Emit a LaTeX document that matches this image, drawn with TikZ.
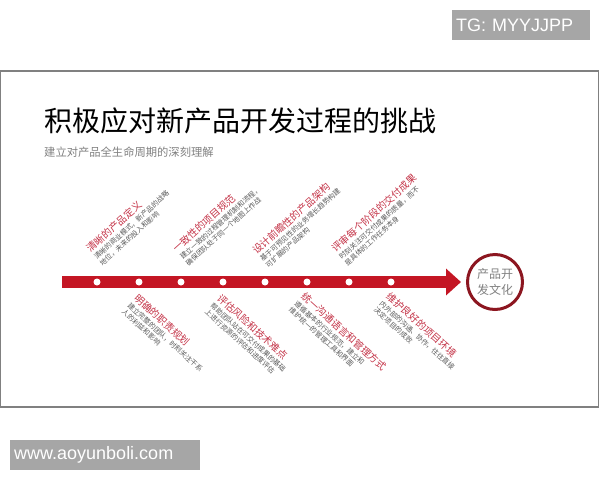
\documentclass[tikz,border=0pt]{standalone}
\usepackage{fontspec}
\setmainfont{Noto Sans CJK SC}
\newfontfamily\wmfont{Liberation Sans}
\usetikzlibrary{arrows.meta,positioning}
\definecolor{barred}{RGB}{196,22,36}
\definecolor{labred}{RGB}{196,52,72}
\definecolor{ringred}{RGB}{140,22,32}
\definecolor{subgray}{RGB}{90,90,90}
\definecolor{markgray}{RGB}{166,166,166}
\definecolor{framegray}{RGB}{128,128,128}
\newcommand{\stagelabel}[3]{{\color{labred}\fontsize{10}{12}\selectfont #1}\\[1pt]#2\\#3}
\tikzset{
  dot/.style={circle,fill=white,inner sep=0pt,minimum size=7pt},
  stagetop/.style={rotate=42,anchor=south west,align=left,inner sep=0pt,text=subgray,font=\fontsize{7}{8.5}\selectfont},
  stagebot/.style={rotate=-42,anchor=north west,align=left,inner sep=0pt,text=subgray,font=\fontsize{7}{8.5}\selectfont},
  markbox/.style={fill=markgray,text=white,anchor=north west,align=left,inner xsep=4pt,inner ysep=0pt,minimum height=30pt,font=\wmfont\fontsize{18}{20}\selectfont}
}
\begin{document}
\begin{tikzpicture}[x=1pt,y=-1pt]
  \useasboundingbox (0,0) rectangle (600,480);
  \node[markbox,text width=130pt] (tg) at (452,10) {TG: MYYJJPP}; % top mark
  \node[markbox,text width=182pt] (www) at (10,440) {www.aoyunboli.com}; % bottom mark
  \draw[framegray,line width=1.3pt] (0.7,71) rectangle (598.6,407);
  \node[anchor=west,inner sep=0pt,font=\fontsize{28}{32}\selectfont] (title) at (44,121) {积极应对新产品开发过程的挑战};
  \node[anchor=west,inner sep=0pt,text=gray,font=\fontsize{11.3}{13}\selectfont] (subtitle) at (44,152) {建立对产品全生命周期的深刻理解};
  % timeline
  \coordinate (start) at (62,282);
  \node[circle,draw=ringred,line width=3pt,minimum size=55pt,align=center,text=gray,font=\fontsize{12}{16}\selectfont] (culture) at (495,282) {产品开\\发文化};
  \draw[barred,line width=12pt,-{Triangle[length=15pt,width=26pt]},shorten >=5pt] (start) -- (culture);
  \foreach \i in {1,...,8}{
    \node[dot] (d\i) at ({55+42*\i},282) {};
  }
  % above the line
  \node[stagetop] (s1) at ([shift={(6,-15)}]d1) {\stagelabel{清晰的产品定义}{清晰的商业模式，新产品的战略}{地位，未来的投入和影响}};
  \node[stagetop] (s3) at ([shift={(8,-15)}]d3) {\stagelabel{一致性的项目规范}{建立一致的过程管理机制和流程，}{确保团队处于同一个地图上作战}};
  \node[stagetop] (s5) at ([shift={(4,-13)}]d5) {\stagelabel{设计前瞻性的产品架构}{基于可预见性的业务增长趋势构建}{可扩展的产品架构}};
  \node[stagetop] (s7) at ([shift={(-1,-15)}]d7) {\stagelabel{评审每个阶段的交付成果}{时刻关注可交付成果的质量，而不}{是具体的工作任务本身}};
  % below the line
  \node[stagebot] (s2) at ([shift={(0,11)}]d2) {\stagelabel{明确的职责规划}{建立完整的团队，时刻关注干系}{人的利益和影响}};
  \node[stagebot] (s4) at ([shift={(-1,11)}]d4) {\stagelabel{评估风险和技术难点}{帮助团队站在可交付成果的基础}{上进行资源的评估和进度评估}};
  \node[stagebot] (s6) at ([shift={(-1,9)}]d6) {\stagelabel{统一沟通语言和管理方式}{遵循基本的行业规范，建立和}{维护统一的管理工具和界面}};
  \node[stagebot] (s8) at ([shift={(0,9)}]d8) {\stagelabel{维护良好的项目环境}{内外部的沟通、协作，往往直接}{决定项目的成败}};
\end{tikzpicture}
\end{document}
